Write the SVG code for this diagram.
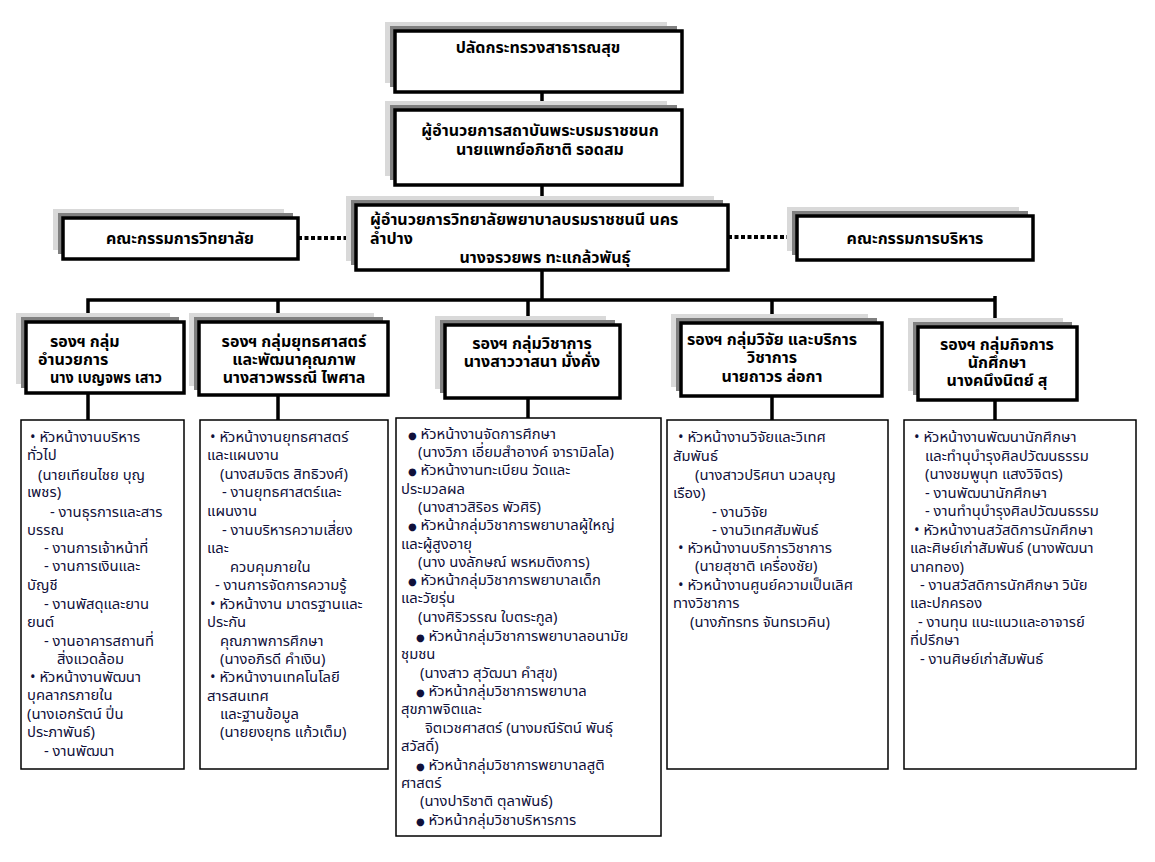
<svg xmlns="http://www.w3.org/2000/svg" width="1155" height="862" viewBox="0 0 1155 862">
<style>
.lt{fill:#d9d9d9}
.dk{fill:#808080}
.bx{fill:#fff;stroke:#000;stroke-width:3.5}
.db{fill:#fff;stroke:#000;stroke-width:1.5}
.h{font-family:Tahoma,"Noto Sans Thai","Noto Sans","DejaVu Sans",sans-serif;font-size:16px;font-weight:bold;fill:#000}
.t{font-family:Tahoma,"Noto Sans Thai","Noto Sans","DejaVu Sans",sans-serif;font-size:14.8px;fill:#10103a}
.b{font-size:10px}
.c{stroke:#000;stroke-width:3.5;fill:none}
.d{stroke:#000;stroke-width:4;stroke-dasharray:4 2.5;fill:none}
</style>
<defs>
<clipPath id="cA"><rect x="21" y="420" width="163" height="349"/></clipPath>
<clipPath id="cB"><rect x="200" y="420" width="188" height="349"/></clipPath>
</defs>
<rect width="1155" height="862" fill="#fff"/>
<g id="connectors">
<line class="c" x1="542" y1="92" x2="542" y2="110"/>
<line class="c" x1="542" y1="185" x2="542" y2="205"/>
<line class="c" x1="542" y1="270" x2="542" y2="300"/>
<polyline class="c" points="88,320 88,300 995,300"/>
<line class="c" x1="995" y1="296" x2="995" y2="325"/>
<line class="c" x1="278" y1="300" x2="278" y2="322"/>
<line class="c" x1="528" y1="300" x2="528" y2="325"/>
<line class="c" x1="772" y1="300" x2="772" y2="323"/>
<line class="c" x1="88" y1="393" x2="88" y2="420"/>
<line class="c" x1="278" y1="395" x2="278" y2="420"/>
<line class="c" x1="528" y1="398" x2="528" y2="418"/>
<line class="c" x1="772" y1="396" x2="772" y2="420"/>
<line class="c" x1="995" y1="400" x2="995" y2="420"/>
<line class="d" x1="298" y1="238" x2="356" y2="238"/>
<line class="d" x1="728" y1="237" x2="797" y2="237"/>
</g>
<g id="n-permsec">
<rect class="lt" x="385" y="22" width="282" height="61"/>
<rect class="dk" x="390" y="26" width="287" height="61"/>
<rect class="bx" x="395" y="31" width="287" height="61"/>
<text class="h" x="538" y="53" text-anchor="middle">ปลัดกระทรวงสาธารณสุข</text>
</g>
<g id="n-institute">
<rect class="lt" x="385" y="101" width="282" height="75"/>
<rect class="dk" x="390" y="105" width="287" height="75"/>
<rect class="bx" x="395" y="110" width="287" height="75"/>
<text class="h" x="540" y="136" text-anchor="middle">ผู้อำนวยการสถาบันพระบรมราชชนก</text>
<text class="h" x="540" y="155" text-anchor="middle">นายแพทย์อภิชาติ  รอดสม</text>
</g>
<g id="n-college-board">
<rect class="lt" x="53" y="209" width="231" height="41"/>
<rect class="dk" x="58" y="213" width="235" height="41"/>
<rect class="bx" x="63" y="218" width="235" height="41"/>
<text class="h" x="180" y="244" text-anchor="middle">คณะกรรมการวิทยาลัย</text>
</g>
<g id="n-director">
<rect class="lt" x="346" y="196" width="368" height="65"/>
<rect class="dk" x="351" y="200" width="372" height="65"/>
<rect class="bx" x="356" y="205" width="372" height="65"/>
<text class="h" x="370" y="225">ผู้อำนวยการวิทยาลัยพยาบาลบรมราชชนนี นคร</text>
<text class="h" x="370" y="244">ลำปาง</text>
<text class="h" x="545" y="263" text-anchor="middle">นางจรวยพร  ทะแกล้วพันธุ์</text>
</g>
<g id="n-admin-board">
<rect class="lt" x="787" y="207" width="232" height="44"/>
<rect class="dk" x="792" y="211" width="236" height="44"/>
<rect class="bx" x="797" y="216" width="236" height="44"/>
<text class="h" x="915" y="244" text-anchor="middle">คณะกรรมการบริหาร</text>
</g>
<g id="n-dep-admin">
<rect class="lt" x="16" y="313" width="154" height="71"/>
<rect class="dk" x="21" y="317" width="158" height="71"/>
<rect class="bx" x="26" y="322" width="158" height="71"/>
<text class="h" x="50" y="347">รองฯ กลุ่ม</text>
<text class="h" x="38" y="365">อำนวยการ</text>
<text class="h" x="50" y="383" textLength="112" lengthAdjust="spacingAndGlyphs">นาง เบญจพร เสาว</text>
</g>
<g id="n-dep-strategy">
<rect class="lt" x="189" y="313" width="185" height="73"/>
<rect class="dk" x="194" y="317" width="189" height="73"/>
<rect class="bx" x="199" y="322" width="189" height="73"/>
<text class="h" x="294" y="347" text-anchor="middle">รองฯ กลุ่มยุทธศาสตร์</text>
<text class="h" x="294" y="365" text-anchor="middle">และพัฒนาคุณภาพ</text>
<text class="h" x="294" y="383" text-anchor="middle">นางสาวพรรณี ไพศาล</text>
</g>
<g id="n-dep-academic">
<rect class="lt" x="435" y="316" width="171" height="73"/>
<rect class="dk" x="440" y="320" width="175" height="73"/>
<rect class="bx" x="445" y="325" width="175" height="73"/>
<text class="h" x="532" y="349" text-anchor="middle">รองฯ กลุ่มวิชาการ</text>
<text class="h" x="532" y="367" text-anchor="middle">นางสาววาสนา  มั่งคั่ง</text>
</g>
<g id="n-dep-research">
<rect class="lt" x="671" y="314" width="197" height="73"/>
<rect class="dk" x="676" y="318" width="201" height="73"/>
<rect class="bx" x="681" y="323" width="201" height="73"/>
<text class="h" x="772" y="345" text-anchor="middle">รองฯ กลุ่มวิจัย และบริการ</text>
<text class="h" x="772" y="363" text-anchor="middle">วิชาการ</text>
<text class="h" x="772" y="382" text-anchor="middle">นายถาวร  ล่อกา</text>
</g>
<g id="n-dep-student">
<rect class="lt" x="908" y="318" width="155" height="73"/>
<rect class="dk" x="913" y="322" width="159" height="73"/>
<rect class="bx" x="918" y="327" width="159" height="73"/>
<text class="h" x="997" y="350" text-anchor="middle">รองฯ กลุ่มกิจการ</text>
<text class="h" x="997" y="368" text-anchor="middle">นักศึกษา</text>
<text class="h" x="997" y="386" text-anchor="middle">นางคนึงนิตย์  สุ</text>
</g>
<g id="n-list-admin">
<rect class="db" x="21" y="420" width="163" height="349"/>
<g clip-path="url(#cA)">
<text class="t" x="30" y="442">• หัวหน้างานบริหาร</text>
<text class="t" x="27" y="460">ทั่วไป</text>
<text class="t" x="38" y="480">(นายเทียนไชย บุญ</text>
<text class="t" x="27" y="497">เพชร)</text>
<text class="t" x="50" y="517">- งานธุรการและสาร</text>
<text class="t" x="27" y="535">บรรณ</text>
<text class="t" x="44" y="553">- งานการเจ้าหน้าที่</text>
<text class="t" x="44" y="571">- งานการเงินและ</text>
<text class="t" x="27" y="590">บัญชี</text>
<text class="t" x="44" y="609">- งานพัสดุและยาน</text>
<text class="t" x="27" y="627">ยนต์</text>
<text class="t" x="44" y="646">- งานอาคารสถานที่</text>
<text class="t" x="57" y="664">สิ่งแวดล้อม</text>
<text class="t" x="30" y="682">• หัวหน้างานพัฒนา</text>
<text class="t" x="27" y="700">บุคลากรภายใน</text>
<text class="t" x="27" y="719">(นางเอกรัตน์ ปิ่น</text>
<text class="t" x="27" y="737">ประภาพันธ์)</text>
<text class="t" x="44" y="756">-  งานพัฒนา</text>
</g>
</g>
<g id="n-list-strategy">
<rect class="db" x="200" y="420" width="188" height="349"/>
<g clip-path="url(#cB)">
<text class="t" x="210" y="442">• หัวหน้างานยุทธศาสตร์</text>
<text class="t" x="207" y="460">และแผนงาน</text>
<text class="t" x="220" y="479">(นางสมจิตร สิทธิวงศ์)</text>
<text class="t" x="222" y="497">- งานยุทธศาสตร์และ</text>
<text class="t" x="207" y="516">แผนงาน</text>
<text class="t" x="222" y="535">- งานบริหารความเสี่ยง</text>
<text class="t" x="207" y="553">และ</text>
<text class="t" x="230" y="572">ควบคุมภายใน</text>
<text class="t" x="215" y="590">- งานการจัดการความรู้</text>
<text class="t" x="210" y="609">• หัวหน้างาน มาตรฐานและ</text>
<text class="t" x="207" y="627">ประกัน</text>
<text class="t" x="220" y="646">คุณภาพการศึกษา</text>
<text class="t" x="220" y="664">(นางอภิรดี  คำเงิน)</text>
<text class="t" x="210" y="682">• หัวหน้างานเทคโนโลยี</text>
<text class="t" x="207" y="701">สารสนเทศ</text>
<text class="t" x="220" y="719">และฐานข้อมูล</text>
<text class="t" x="220" y="737">(นายยงยุทธ  แก้วเต็ม)</text>
</g>
</g>
<g id="n-list-academic">
<rect class="db" x="396" y="418" width="265" height="418"/>
<text class="t" x="408" y="439"><tspan class="b">●</tspan> หัวหน้างานจัดการศึกษา</text>
<text class="t" x="418" y="457">(นางวิภา เอี่ยมสำอางค์ จารามิลโล)</text>
<text class="t" x="408" y="475"><tspan class="b">●</tspan> หัวหน้างานทะเบียน  วัดและ</text>
<text class="t" x="401" y="494">ประมวลผล</text>
<text class="t" x="418" y="512">(นางสาวสิริอร  พัวศิริ)</text>
<text class="t" x="408" y="530"><tspan class="b">●</tspan> หัวหน้ากลุ่มวิชาการพยาบาลผู้ใหญ่</text>
<text class="t" x="401" y="549">และผู้สูงอายุ</text>
<text class="t" x="418" y="567">(นาง นงลักษณ์ พรหมติงการ)</text>
<text class="t" x="408" y="585"><tspan class="b">●</tspan> หัวหน้ากลุ่มวิชาการพยาบาลเด็ก</text>
<text class="t" x="401" y="603">และวัยรุ่น</text>
<text class="t" x="418" y="622">(นางศิริวรรณ ใบตระกูล)</text>
<text class="t" x="416" y="641"><tspan class="b">●</tspan> หัวหน้ากลุ่มวิชาการพยาบาลอนามัย</text>
<text class="t" x="401" y="659">ชุมชน</text>
<text class="t" x="420" y="678">(นางสาว สุวัฒนา คำสุข)</text>
<text class="t" x="416" y="696"><tspan class="b">●</tspan> หัวหน้ากลุ่มวิชาการพยาบาล</text>
<text class="t" x="401" y="714">สุขภาพจิตและ</text>
<text class="t" x="425" y="733">จิตเวชศาสตร์  (นางมณีรัตน์ พันธุ์</text>
<text class="t" x="401" y="751">สวัสดิ์)</text>
<text class="t" x="416" y="770"><tspan class="b">●</tspan> หัวหน้ากลุ่มวิชาการพยาบาลสูติ</text>
<text class="t" x="401" y="788">ศาสตร์</text>
<text class="t" x="420" y="806">(นางปาริชาติ ตุลาพันธ์)</text>
<text class="t" x="416" y="825"><tspan class="b">●</tspan> หัวหน้ากลุ่มวิชาบริหารการ</text>
</g>
<g id="n-list-research">
<rect class="db" x="667" y="420" width="221" height="349"/>
<text class="t" x="678" y="442">• หัวหน้างานวิจัยและวิเทศ</text>
<text class="t" x="673" y="461">สัมพันธ์</text>
<text class="t" x="695" y="480">(นางสาวปริศนา นวลบุญ</text>
<text class="t" x="673" y="498">เรือง)</text>
<text class="t" x="712" y="517">- งานวิจัย</text>
<text class="t" x="712" y="535">- งานวิเทศสัมพันธ์</text>
<text class="t" x="678" y="553">• หัวหน้างานบริการวิชาการ</text>
<text class="t" x="695" y="571">(นายสุชาติ เครื่องชัย)</text>
<text class="t" x="678" y="590">• หัวหน้างานศูนย์ความเป็นเลิศ</text>
<text class="t" x="673" y="608">ทางวิชาการ</text>
<text class="t" x="690" y="627">(นางภัทรทร จันทรเวคิน)</text>
</g>
<g id="n-list-student">
<rect class="db" x="904" y="420" width="232" height="349"/>
<text class="t" x="914" y="442">• หัวหน้างานพัฒนานักศึกษา</text>
<text class="t" x="925" y="461">และทำนุบำรุงศิลปวัฒนธรรม</text>
<text class="t" x="925" y="479">(นางชมพูนุท แสงวิจิตร)</text>
<text class="t" x="925" y="498">- งานพัฒนานักศึกษา</text>
<text class="t" x="925" y="516">- งานทำนุบำรุงศิลปวัฒนธรรม</text>
<text class="t" x="914" y="535">• หัวหน้างานสวัสดิการนักศึกษา</text>
<text class="t" x="910" y="553">และศิษย์เก่าสัมพันธ์ (นางพัฒนา</text>
<text class="t" x="910" y="572">นาคทอง)</text>
<text class="t" x="920" y="590">- งานสวัสดิการนักศึกษา วินัย</text>
<text class="t" x="910" y="608">และปกครอง</text>
<text class="t" x="918" y="627">- งานทุน แนะแนวและอาจารย์</text>
<text class="t" x="910" y="645">ที่ปรึกษา</text>
<text class="t" x="920" y="664">- งานศิษย์เก่าสัมพันธ์</text>
</g>
</svg>
